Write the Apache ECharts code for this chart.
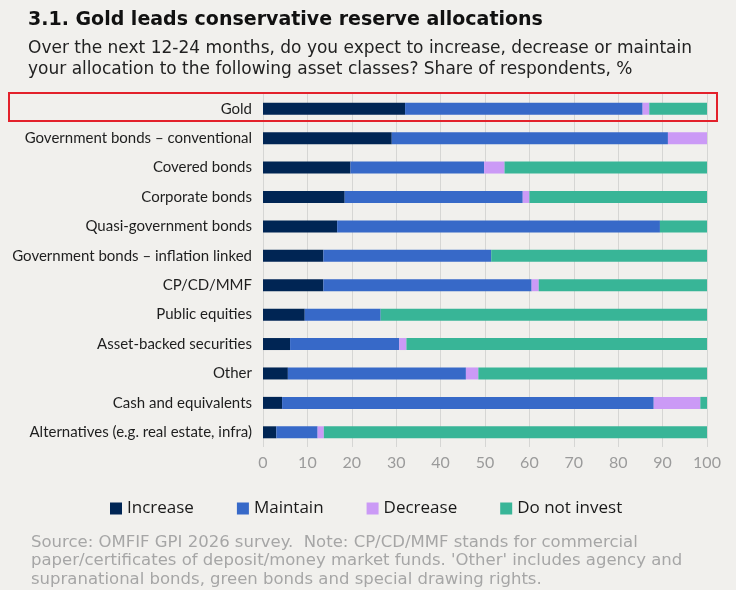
<!DOCTYPE html>
<html lang="en">
<head>
    <meta charset="UTF-8">
    <title>Gold leads conservative reserve allocations</title>
    <script src="https://cdn.jsdelivr.net/npm/echarts@6/dist/echarts.min.js"></script>
    <style>
        html, body { margin: 0; padding: 0; background: #f1f0ed; }
        #chart { width: 736px; height: 590px; }
    </style>
</head>
<body>
<div id="chart"></div>
<script type="text/javascript">
    // 资产类别（从上到下）
    const categories = [
        'Gold',
        'Government bonds – conventional',
        'Covered bonds',
        'Corporate bonds',
        'Quasi-government bonds',
        'Government bonds – inflation linked',
        'CP/CD/MMF',
        'Public equities',
        'Asset-backed securities',
        'Other',
        'Cash and equivalents',
        'Alternatives (e.g. real estate, infra)'
    ];
    const increase    = [32.0, 29.0, 19.7, 18.4, 16.7, 13.6, 13.6, 9.4, 6.1, 5.6, 4.3, 3.0];
    const maintain    = [53.5, 62.2, 30.1, 40.1, 72.7, 37.8, 46.9, 17.1, 24.6, 40.1, 83.7, 9.3];
    const decrease    = [1.5, 8.8, 4.6, 1.5, 0, 0, 1.6, 0, 1.6, 2.8, 10.5, 1.4];
    const doNotInvest = [13.0, 0, 45.6, 40.0, 10.6, 48.6, 37.9, 73.5, 67.7, 51.5, 1.5, 86.3];
    const xTicks = [0, 10, 20, 30, 40, 50, 60, 70, 80, 90, 100];

    const HEAD_FONT = 'DejaVu Sans';
    const FONT = 'Open Sans';
    const LABEL_FONT = 'Lato';

    function barSeries(name, data, color) {
        return {
            name: name,
            type: 'bar',
            stack: 'total',
            barWidth: 12,
            data: data,
            itemStyle: { color: color },
            emphasis: { disabled: true }
        };
    }

    let myChart = echarts.init(document.getElementById('chart'), null, { renderer: 'canvas' });
    myChart.setOption({
        backgroundColor: '#f1f0ed',
        animation: false,
        textStyle: { fontFamily: FONT },
        title: [
            {
                text: '3.1. Gold leads conservative reserve allocations',
                left: 23, top: 6,
                textStyle: { fontFamily: HEAD_FONT, fontSize: 19, fontWeight: 'bold', color: '#111' }
            },
            {
                text: 'Over the next 12-24 months, do you expect to increase, decrease or maintain\nyour allocation to the following asset classes? Share of respondents, %',
                left: 23, top: 33,
                textStyle: { fontFamily: HEAD_FONT, fontSize: 17, fontWeight: 'normal', color: '#222', lineHeight: 21 }
            },
            {
                text: 'Source: OMFIF GPI 2026 survey.  Note: CP/CD/MMF stands for commercial\npaper/certificates of deposit/money market funds. \'Other\' includes agency and\nsupranational bonds, green bonds and special drawing rights.',
                left: 26, top: 528,
                textStyle: { fontFamily: HEAD_FONT, fontSize: 16.5, fontWeight: 'normal', color: '#a6a6a6', lineHeight: 18.5 }
            }
        ],
        legend: {
            left: 105, top: 495,
            icon: 'rect',
            itemWidth: 12, itemHeight: 12, itemGap: 43,
            textStyle: { fontFamily: FONT, fontSize: 17, color: '#1a1a1a' },
            data: ['Increase', 'Maintain', 'Decrease', 'Do not invest']
        },
        grid: { left: 263, right: 29, top: 94, bottom: 143, containLabel: false },
        xAxis: {
            type: 'value',
            min: 0, max: 100, interval: 10,
            axisLine: { show: false },
            axisTick: { show: false },
            splitLine: { lineStyle: { color: '#d6d6d4', width: 1 } },
            axisLabel: {
                color: '#9b9b9b', fontSize: 16, margin: 8, fontFamily: LABEL_FONT,
                formatter: function (v) { return xTicks.indexOf(v) >= 0 ? String(v) : ''; }
            }
        },
        yAxis: {
            type: 'category',
            inverse: true,
            data: categories,
            axisLine: { show: false },
            axisTick: { show: false },
            axisLabel: { color: '#1e1e1e', fontSize: 15, margin: 11, fontFamily: LABEL_FONT }
        },
        // 红框标出 Gold 行
        graphic: [{
            type: 'rect',
            shape: { x: 9, y: 93, width: 708, height: 28 },
            style: { fill: 'none', stroke: '#e3212b', lineWidth: 2 },
            z: 100
        }],
        series: [
            barSeries('Increase', increase, '#002554'),
            barSeries('Maintain', maintain, '#3769c8'),
            barSeries('Decrease', decrease, '#cb9af6'),
            barSeries('Do not invest', doNotInvest, '#38b597')
        ]
    });
</script>
</body>
</html>
